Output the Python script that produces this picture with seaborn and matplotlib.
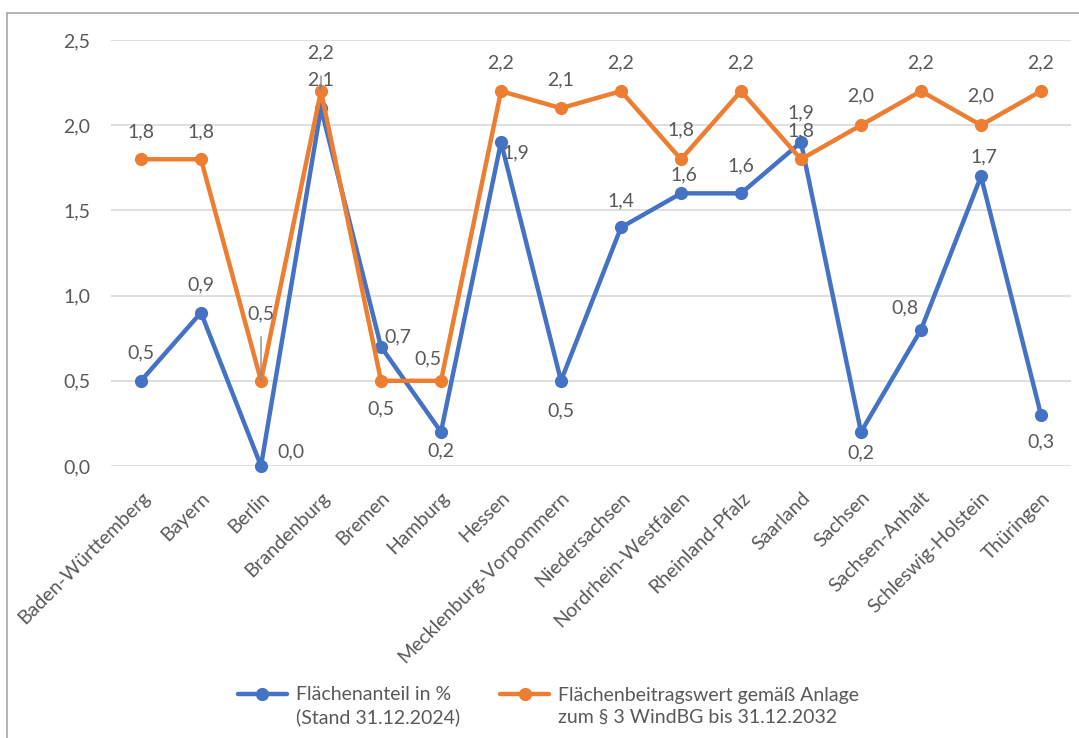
import matplotlib.pyplot as plt
import matplotlib.patches as patches
from matplotlib.ticker import MultipleLocator, FuncFormatter
from matplotlib.transforms import ScaledTranslation
import pandas as pd
import seaborn as sns

# Data
laender = [
    "Baden-Württemberg", "Bayern", "Berlin", "Brandenburg", "Bremen",
    "Hamburg", "Hessen", "Mecklenburg-Vorpommern", "Niedersachsen",
    "Nordrhein-Westfalen", "Rheinland-Pfalz", "Saarland", "Sachsen",
    "Sachsen-Anhalt", "Schleswig-Holstein", "Thüringen",
]
flaechenanteil = [0.5, 0.9, 0.0, 2.1, 0.7, 0.2, 1.9, 0.5, 1.4, 1.6, 1.6, 1.9, 0.2, 0.8, 1.7, 0.3]
beitragswert = [1.8, 1.8, 0.5, 2.2, 0.5, 0.5, 2.2, 2.1, 2.2, 1.8, 2.2, 1.8, 2.0, 2.2, 2.0, 2.2]
serie_anteil = "Flächenanteil in %\n(Stand 31.12.2024)"
serie_beitrag = "Flächenbeitragswert gemäß Anlage\nzum § 3 WindBG bis 31.12.2032"

# Data label placement (pixel offsets from the point, dy positive = up)
off_anteil = [(0, 28), (0, 28), (30, 14), (0, 28), (17, 10), (0, -19), (15, -11), (0, -30),
              (0, 27), (3, 18), (0, 27), (0, 29), (0, -21), (-16, 22), (3, 19), (0, -27)]
off_beitrag = [(0, 27), (0, 27), (0, 67), (0, 38), (0, -28), (-13, 22), (0, 28), (0, 28),
               (0, 28), (0, 29), (0, 28), (0, 28), (0, 29), (0, 28), (0, 29), (0, 28)]
leader = {2: True, 3: True}

BLUE = "#4472C4"
ORANGE = "#ED7D31"
TEXT = "#595959"
FS = 14

sns.set_style("white")
plt.rcParams["font.family"] = ["Lato", "DejaVu Sans"]
plt.rcParams["font.size"] = FS

df = pd.DataFrame({
    "land": laender * 2,
    "wert": flaechenanteil + beitragswert,
    "serie": [serie_anteil] * len(laender) + [serie_beitrag] * len(laender),
})

fig = plt.figure(figsize=(10.79, 7.38), dpi=100)
ax = fig.add_axes([111 / 1079, 1 - 466 / 738, 960 / 1079, 426 / 738])

sns.lineplot(
    data=df, x="land", y="wert", hue="serie", sort=False,
    palette={serie_anteil: BLUE, serie_beitrag: ORANGE},
    marker="o", markersize=9.5, markeredgewidth=0, linewidth=3.2,
    ax=ax, legend=True, clip_on=False,
)

ax.set_xlim(-0.5, len(laender) - 0.5)
ax.set_ylim(0, 2.5)
ax.yaxis.set_major_locator(MultipleLocator(0.5))
ax.yaxis.set_major_formatter(FuncFormatter(lambda v, p: f"{v:.1f}".replace(".", ",")))
ax.yaxis.grid(True, color="#D9D9D9", linewidth=1.2)
ax.set_axisbelow(True)
sns.despine(ax=ax, left=True, bottom=True)
ax.set_xlabel("")
ax.set_ylabel("")
ax.tick_params(axis="both", length=0, colors=TEXT, labelsize=FS)
ax.tick_params(axis="y", pad=15)

for lab in ax.get_xticklabels():
    lab.set_rotation(45)
    lab.set_ha("right")
    lab.set_va("center")
    lab.set_rotation_mode("anchor")
    lab.set_transform(lab.get_transform() + ScaledTranslation(6 / 100, -24 / 100, fig.dpi_scale_trans))


def fmt(v):
    return f"{v:.1f}".replace(".", ",")


for i, (v, (dx, dy)) in enumerate(zip(flaechenanteil, off_anteil)):
    ax.annotate(fmt(v), (i, v), xytext=(dx, dy), textcoords="offset pixels",
                ha="center", va="center", color=TEXT, fontsize=FS)

for i, (v, (dx, dy)) in enumerate(zip(beitragswert, off_beitrag)):
    props = None
    if leader.get(i):
        props = dict(arrowstyle="-", color="#8C8C8C", lw=1, shrinkA=8, shrinkB=0)
    ax.annotate(fmt(v), (i, v), xytext=(dx, dy), textcoords="offset pixels",
                ha="center", va="center", color=TEXT, fontsize=FS,
                arrowprops=props, zorder=5)

handles, labels = ax.get_legend_handles_labels()
ax.get_legend().remove()
leg = fig.legend(handles, labels, loc="center", bbox_to_anchor=(0.5 + 9 / 1079, 1 - 706 / 738),
                 ncol=2, frameon=False, fontsize=FS, labelcolor=TEXT,
                 handlelength=2.5, columnspacing=2.1, handletextpad=0.45)
for t in leg.get_texts():
    t.set_linespacing(1.35)
# Excel puts the legend symbol next to the first line of the label
for h in leg.legend_handles:
    h.set_transform(h.get_transform() + ScaledTranslation(0, 12 / 100, fig.dpi_scale_trans))

# chart area border
fig.add_artist(patches.Rectangle((7 / 1079, -0.05), 1.2, 1.05 - 13 / 738,
                                 transform=fig.transFigure, fill=False,
                                 edgecolor="#A6A6A6", linewidth=1.2))

fig.savefig("out.png", dpi=100)
